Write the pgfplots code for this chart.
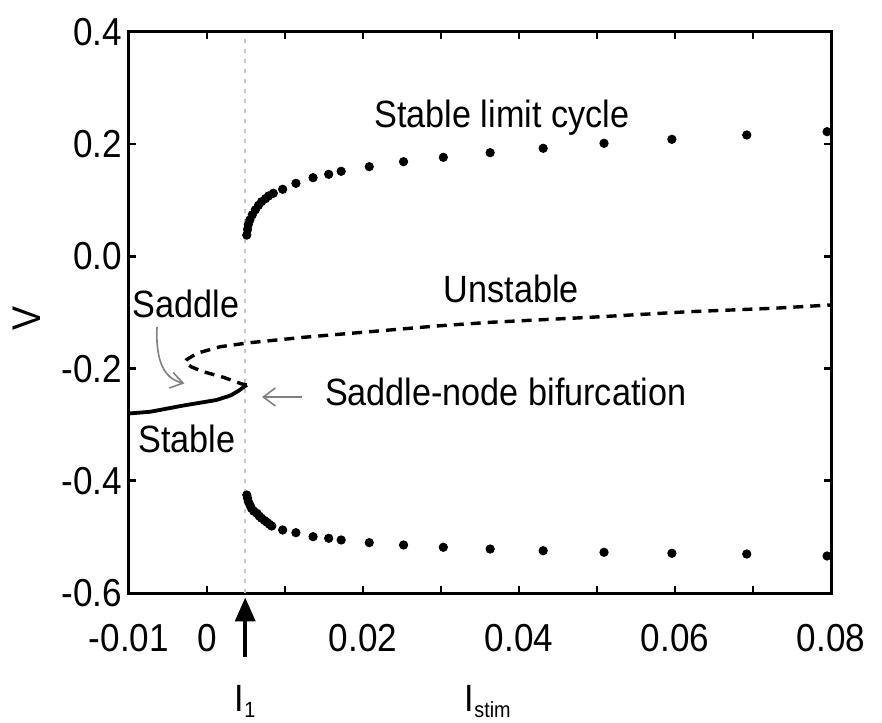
\documentclass[border=0pt]{standalone}
\usepackage{fontspec}
\setmainfont{Liberation Sans}[FakeStretch=0.9]
\usepackage{pgfplots}
\pgfplotsset{compat=1.18}
\usetikzlibrary{arrows.meta}

\pgfplotstableread{
x y
0.0051 0.038
0.0052 0.048
0.0053 0.057
0.0055 0.065
0.0058 0.074
0.0062 0.083
0.0066 0.091
0.0070 0.0975
0.0075 0.103
0.0079 0.1077
0.0085 0.1125
0.0097 0.1196
0.0114 0.1303
0.0136 0.1403
0.0156 0.1463
0.0172 0.1517
0.0208 0.1599
0.0252 0.1688
0.0303 0.1766
0.0363 0.1849
0.0431 0.1927
0.0509 0.2016
0.0596 0.2087
0.0692 0.2164
0.0795 0.2223
}\upperLC

\pgfplotstableread{
x y
0.0051 -0.4253
0.0052 -0.431
0.0053 -0.437
0.0055 -0.443
0.0057 -0.449
0.0060 -0.454
0.0064 -0.458
0.0067 -0.463
0.0070 -0.4668
0.0074 -0.471
0.0077 -0.474
0.0080 -0.4775
0.0083 -0.4806
0.0097 -0.4877
0.0114 -0.4925
0.0136 -0.4996
0.0156 -0.5025
0.0172 -0.5055
0.0208 -0.5103
0.0252 -0.5144
0.0303 -0.5185
0.0363 -0.5216
0.0431 -0.5246
0.0509 -0.5274
0.0596 -0.5292
0.0692 -0.5305
0.0795 -0.534
}\lowerLC

\pgfplotstableread{
x y
-0.0100 -0.280
-0.0073 -0.277
-0.0031 -0.266
0.0012 -0.256
0.0030 -0.248
0.0040 -0.240
0.0047 -0.233
0.0051 -0.229
}\stable

\pgfplotstableread{
x y
0.0051 -0.229
0.0045 -0.2275
0.0021 -0.2155
-0.0005 -0.2055
-0.0020 -0.1970
-0.0026 -0.1915
-0.0028 -0.1880
-0.0026 -0.1840
-0.0013 -0.1727
0.0017 -0.1610
0.0055 -0.1538
0.0124 -0.1442
0.0209 -0.1342
0.0295 -0.1240
0.0363 -0.1175
0.0491 -0.1086
0.0619 -0.0985
0.0726 -0.0925
0.0800 -0.0866
}\unstable

\begin{document}
\begin{tikzpicture}
\begin{axis}[
  scale only axis,
  width=351pt, height=280.5pt,
  xmin=-0.01, xmax=0.08, ymin=-0.6, ymax=0.4,
  axis line style={line width=1.5pt},
  tick align=inside, tick pos=both,
  major tick length=3.5pt,
  every tick/.style={black, line width=1.3pt},
  xtick={-0.01,0,0.01,0.02,0.03,0.04,0.05,0.06,0.07,0.08},
  xticklabels={-0.01,0,,0.02,,0.04,,0.06,,0.08},
  ytick={-0.6,-0.4,-0.2,0,0.2,0.4},
  yticklabels={-0.6,-0.4,-0.2,0.0,0.2,0.4},
  scaled x ticks=false, scaled y ticks=false,
  tick label style={font=\fontsize{19.5}{22}\selectfont},
  xticklabel style={yshift=-12pt},
  clip=false,
]
\coordinate (SW) at (rel axis cs:0,0);
\coordinate (NE) at (rel axis cs:1,1);

% I1 guide line
\addplot[gray!45, line width=1pt, dash pattern=on 2pt off 3pt] coordinates {(0.0049,-0.6) (0.0049,0.395)};

% stable branch
\addplot[black, line width=1.9pt, no marks] table[x=x,y=y] {\stable};
% saddle / unstable branch
\addplot[black, line width=1.7pt, no marks, dash pattern=on 5pt off 3.5pt] table[x=x,y=y] {\unstable};
% limit cycle
\addplot[only marks, mark=*, mark size=2.1pt, black] table[x=x,y=y] {\upperLC};
\addplot[only marks, mark=*, mark size=2.1pt, black] table[x=x,y=y] {\lowerLC};

% annotations
\node[anchor=base, font=\fontsize{19}{22}\selectfont] at (axis cs:0.0378,0.229) {Stable limit cycle};
\node[anchor=base, font=\fontsize{19}{22}\selectfont] at (axis cs:0.0390,-0.0813) {Unstable};
\node[anchor=base, font=\fontsize{19}{22}\selectfont] at (axis cs:-0.0027,-0.1098) {Saddle};
\node[anchor=base, font=\fontsize{19}{22}\selectfont] at (axis cs:-0.0026,-0.3487) {Stable};
\node[anchor=base west, font=\fontsize{19}{22}\selectfont] at (axis cs:0.01423,-0.265) {Saddle-node bifurcation};

\draw[gray, line width=0.8pt, -{Straight Barb[length=6pt,width=9pt]}] (axis cs:0.01218,-0.2506) -- (axis cs:0.00705,-0.2506);
\draw[gray, line width=0.8pt, -{Straight Barb[length=6pt,width=8pt]}] (axis cs:-0.00641,-0.1258) .. controls (axis cs:-0.0066,-0.19) and (axis cs:-0.0054,-0.218) .. (axis cs:-0.0029,-0.2265);

\draw[black, line width=2pt, -{Triangle[length=12pt,width=10pt]}] (axis cs:0.0049,-0.714) -- (axis cs:0.0049,-0.608);

\node[anchor=base, font=\fontsize{19}{22}\selectfont] at (axis cs:0.0049,-0.812) {I\raisebox{-0.3ex}{\fontsize{11}{12}\selectfont 1}};
\node[anchor=base, font=\fontsize{19}{22}\selectfont] at (axis cs:0.0360,-0.812) {I\raisebox{-0.3ex}{\fontsize{11}{12}\selectfont stim}};
\node[rotate=90, anchor=center, font=\fontsize{20}{22}\selectfont] at ([xshift=-51pt]rel axis cs:0,0.49) {V};
\end{axis}
\pgfresetboundingbox
\path[use as bounding box] ([xshift=-64.5pt,yshift=-64.5pt]SW) rectangle ([xshift=25.5pt,yshift=16pt]NE);
\end{tikzpicture}
\end{document}
